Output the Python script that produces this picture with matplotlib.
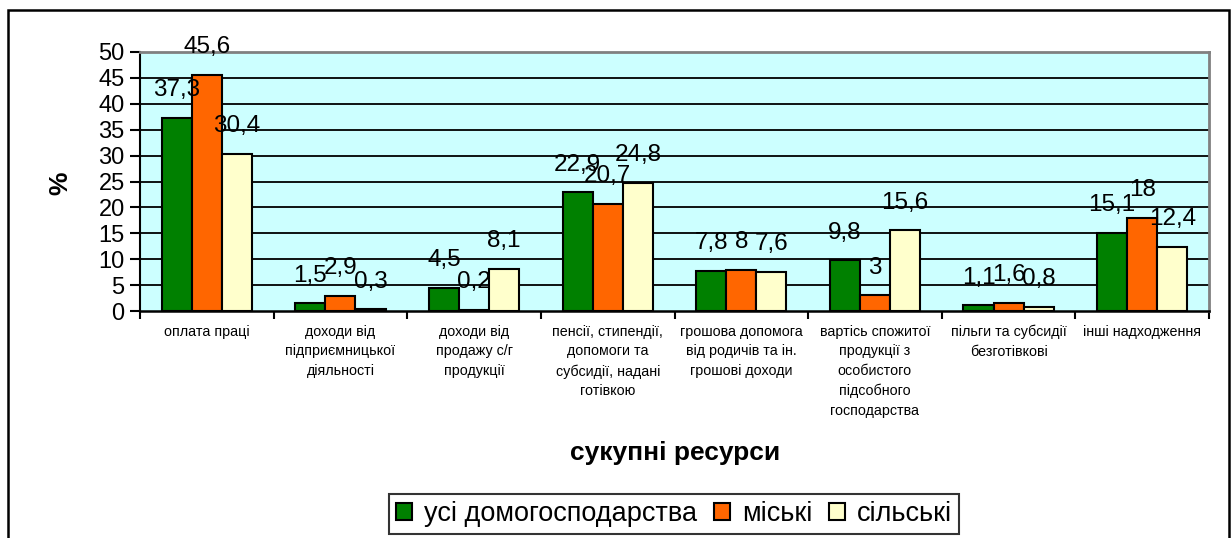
import numpy as np
import matplotlib.pyplot as plt
from matplotlib.patches import Rectangle

plt.rcParams['font.family'] = ['Liberation Sans', 'DejaVu Sans']

# дані
categories = ['оплата праці',
              'доходи від\nпідприємницької\nдіяльності',
              'доходи від\nпродажу с/г\nпродукції',
              'пенсії, стипендії,\nдопомоги та\nсубсидії, надані\nготівкою',
              'грошова допомога\nвід родичів та ін.\nгрошові доходи',
              'вартісь спожитої\nпродукції з\nособистого\nпідсобного\nгосподарства',
              'пільги та субсидії\nбезготівкові',
              'інші надходження']
all_hh = [37.3, 1.5, 4.5, 22.9, 7.8, 9.8, 1.1, 15.1]
urban = [45.6, 2.9, 0.2, 20.7, 8, 3, 1.6, 18]
rural = [30.4, 0.3, 8.1, 24.8, 7.6, 15.6, 0.8, 12.4]
series_names = ['усі домогосподарства', 'міські', 'сільські']
colors = ['#008000', '#FF6600', '#FFFFCC']

fig = plt.figure(figsize=(12.31, 5.38), dpi=100)
ax = fig.add_axes([140/1231, 1-311/538, (1209-140)/1231, (311-52)/538])

# рамка діаграми
fig.patches.append(Rectangle((8/1231, -0.1), (1229-8)/1231, 1.1-10/538,
                             transform=fig.transFigure, fill=False,
                             edgecolor='black', lw=1.8))

x = np.arange(len(categories))
w = 0.225
ax.set_facecolor('#CCFFFF')
for i, (vals, name, c) in enumerate(zip([all_hh, urban, rural], series_names, colors)):
    bars = ax.bar(x + (i-1)*w, vals, w, color=c, edgecolor='black', lw=1.5,
                  label=name, zorder=3)
    for b, v in zip(bars, vals):
        ax.annotate(f'{v:g}'.replace('.', ','), (b.get_x()+b.get_width()/2, v),
                    xytext=(0, 12), textcoords='offset points',
                    ha='center', va='bottom', fontsize=17.5, zorder=4)

ax.set_xlim(-0.5, len(categories)-0.5)
ax.set_ylim(0, 50)
ax.set_yticks(np.arange(0, 51, 5))
ax.tick_params(axis='y', labelsize=17, length=7, width=1.5, direction='out', pad=4)
for yv in range(5, 50, 5):
    ax.axhline(yv, color='black', lw=1.3, zorder=1)

ax.set_xticks(np.arange(-0.5, len(categories), 1))
ax.set_xticklabels([])
ax.tick_params(axis='x', which='major', length=6, width=1.5)
ax.set_xticks(x, minor=True)
ax.set_xticklabels(categories, minor=True, fontsize=10.3, linespacing=1.5, va='top')
ax.tick_params(axis='x', which='minor', length=0, pad=10)

ax.spines['left'].set_linewidth(1.5)
ax.spines['bottom'].set_linewidth(1.8)
ax.spines['top'].set_color('#808080')
ax.spines['right'].set_color('#808080')
ax.spines['top'].set_linewidth(2)
ax.spines['right'].set_linewidth(2)

fig.text(675/1231, 1-453/538, 'сукупні ресурси', ha='center', va='center',
         fontsize=19, fontweight='bold')
fig.text(60/1231, 1-183/538, '%', ha='center', va='center', rotation=90,
         fontsize=19, fontweight='bold')

leg = fig.legend(loc='center', bbox_to_anchor=(674/1231, 1-514/538), ncol=3,
                 fontsize=19.5, frameon=True, fancybox=False, edgecolor='black',
                 handlelength=0.6, handleheight=0.6, handletextpad=0.45,
                 columnspacing=0.6, borderpad=0.25, borderaxespad=0)
leg.get_frame().set_linewidth(1.5)

fig.savefig('out.png', dpi=100)
